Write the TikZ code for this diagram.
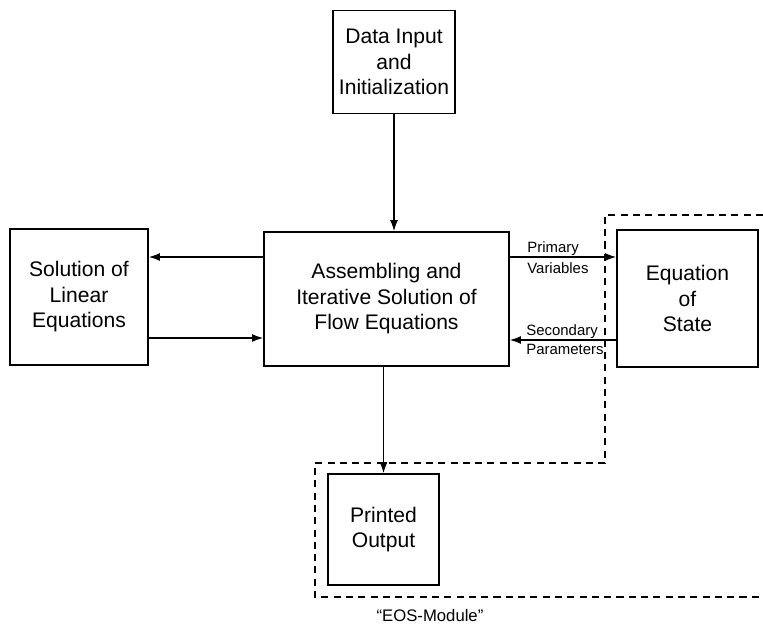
\documentclass[tikz,border=0pt]{standalone}
\usepackage{fontspec}
\setmainfont{Liberation Sans}
\usetikzlibrary{shapes,arrows.meta,positioning,calc}

\begin{document}
\begin{tikzpicture}[x=0.02cm, y=-0.02cm,
		block/.style={draw, line width=1.1pt, align=center, inner sep=0pt,
			font=\fontsize{12}{14.5}\selectfont},
		flow/.style={-{Latex[length=2.2mm,width=1.6mm]}, line width=0.6pt},
		tag/.style={font=\fontsize{8.5}{10}\selectfont, inner sep=0pt}]
	\useasboundingbox (0,0) rectangle (763,631);

	% Boxes
	\node[block, minimum width=122*0.02cm, minimum height=103*0.02cm] (data) at (394,62) {Data Input\\and\\Initialization};
	\node[block, minimum width=245*0.02cm, minimum height=134*0.02cm] (main) at (386.5,299) {Assembling and\\Iterative Solution of\\Flow Equations};
	\node[block, minimum width=138*0.02cm, minimum height=136*0.02cm] (lin) at (79,297) {Solution of\\Linear\\Equations};
	\node[block, minimum width=141*0.02cm, minimum height=137*0.02cm] (eos) at (687.5,298.5) {Equation\\of\\State};
	\node[block, minimum width=111*0.02cm, minimum height=111*0.02cm] (out) at (383.5,529.5) {Printed\\Output};

	% Arrows
	\draw[flow] (data.south) -- (data.south |- main.north);
	\draw[flow] (main.west |- 0,257) -- (lin.east |- 0,257);
	\draw[flow] (lin.east |- 0,338) -- (main.west |- 0,338);
	\draw[flow] (main.east |- 0,257) -- (eos.west |- 0,257);
	\draw[flow] (eos.west |- 0,340) -- (main.east |- 0,340);
	\draw[flow] (out.north |- main.south) -- (out.north);

	% Labels on the right arrows
	\node[tag, anchor=base west] (prim) at (527,253) {Primary};
	\node[tag, anchor=north west] (vars) at (527,262) {Variables};
	\node[tag, anchor=base west] (sec) at (526,335) {Secondary};
	\node[tag, anchor=north west] (pars) at (526,344) {Parameters};

	% EOS module boundary
	\coordinate (m1) at (763,215);
	\coordinate (m2) at (605,215);
	\coordinate (m3) at (605,463);
	\coordinate (m4) at (315,463);
	\coordinate (m5) at (315,597);
	\coordinate (m6) at (763,597);
	\draw[dashed, line width=0.6pt, dash pattern=on 4pt off 3pt] (m1) -- (m2) -- (m3) -- (m4) -- (m5) -- (m6);
	\node[font=\fontsize{9.5}{11}\selectfont] (mod) at (430,616) {``EOS-Module''};
\end{tikzpicture}
\end{document}
